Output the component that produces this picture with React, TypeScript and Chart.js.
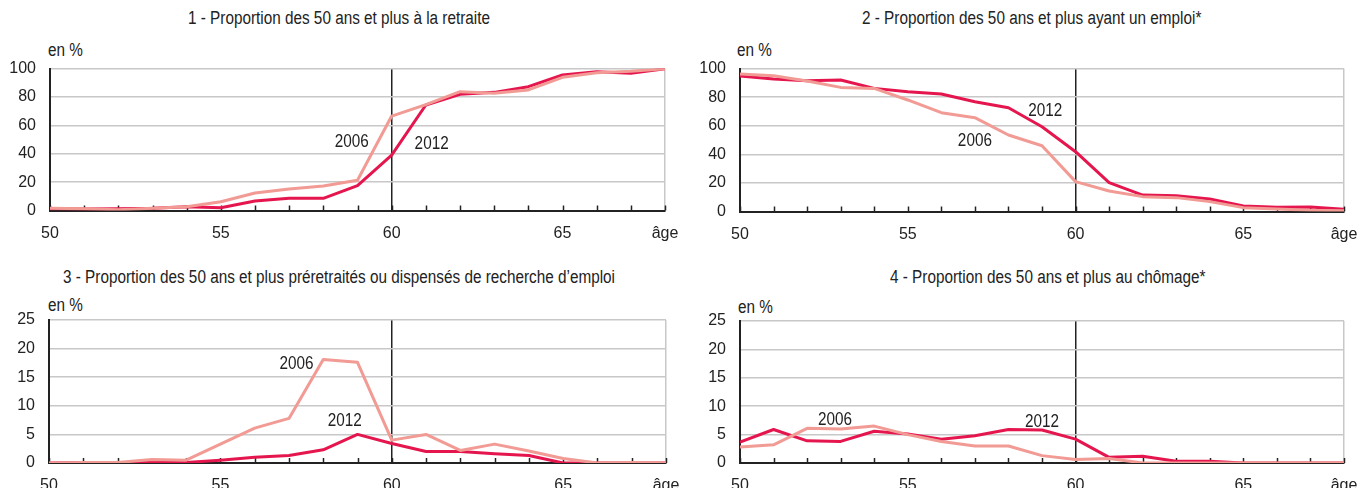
import React, { useEffect, useRef } from 'react';
import { Chart, registerables } from 'chart.js';

Chart.register(...registerables);

// ---------- DATA ----------
const ages = [50, 51, 52, 53, 54, 55, 56, 57, 58, 59, 60, 61, 62, 63, 64, 65, 66, 67, 68];

const retraite2006 = [1.5, 1.2, 0.5, 1.6, 2.7, 6.2, 12.3, 15.1, 17.3, 21.3, 66.5, 74.6, 83.7, 82.5, 84.9, 93.8, 97.0, 98.0, 99.8];
const retraite2012 = [1.3, 1.0, 1.2, 1.5, 2.7, 2.0, 6.7, 8.6, 8.6, 17.5, 39.0, 74.3, 81.8, 83.2, 87.2, 95.4, 97.7, 96.6, 99.8];

const emploi2006 = [96.2, 95.0, 91.3, 86.8, 86.1, 78.0, 69.1, 65.6, 53.5, 46.0, 20.9, 14.3, 10.4, 9.7, 6.9, 2.7, 1.7, 0.8, 0.6];
const emploi2012 = [94.8, 92.7, 91.5, 92.0, 86.1, 83.8, 82.2, 76.8, 72.6, 59.3, 41.8, 20.2, 11.5, 11.1, 8.7, 3.8, 2.9, 3.1, 1.5];

const preretraite2006 = [0, 0.1, 0.1, 0.6, 0.5, 3.3, 6.1, 7.8, 18.1, 17.6, 4.0, 5.0, 2.2, 3.3, 2.1, 0.8, 0, 0.1, 0];
const preretraite2012 = [0, 0.1, 0, 0.1, 0.1, 0.5, 1.0, 1.3, 2.3, 5.0, 3.4, 2.0, 2.0, 1.6, 1.3, 0, 0, 0, 0];

const chomage2006 = [2.8, 3.2, 6.1, 6.0, 6.5, 5.0, 3.8, 3.0, 3.0, 1.3, 0.6, 0.8, 0, 0, 0, 0, 0, 0, 0];
const chomage2012 = [3.7, 5.9, 3.9, 3.8, 5.6, 5.1, 4.2, 4.8, 5.9, 5.8, 4.2, 1.0, 1.2, 0.3, 0.3, 0, 0, 0, 0];

const xTickLabels: Record<number, string> = { 50: '50', 55: '55', 60: '60', 65: '65', 68: 'âge' };

const titles = [
  '1 - Proportion des 50 ans et plus à la retraite',
  '2 - Proportion des 50 ans et plus ayant un emploi*',
  '3 - Proportion des 50 ans et plus préretraités ou dispensés de recherche d’emploi',
  '4 - Proportion des 50 ans et plus au chômage*',
];
const unitLabel = 'en %';

type Note = { text: string; age: number; value: number };
const notes1: Note[] = [
  { text: '2006', age: 58.83, value: 48 },
  { text: '2012', age: 61.17, value: 47 },
];
const notes2: Note[] = [
  { text: '2012', age: 59.1, value: 70.6 },
  { text: '2006', age: 57.0, value: 49 },
];
const notes3: Note[] = [
  { text: '2006', age: 57.22, value: 17.3 },
  { text: '2012', age: 58.63, value: 7.3 },
];
const notes4: Note[] = [
  { text: '2006', age: 52.83, value: 7.5 },
  { text: '2012', age: 59.0, value: 7.3 },
];

// ---------- STYLE ----------
const FONT = "'Liberation Sans', Arial, sans-serif";
const TEXT_SIZE = 18;
const NARROW = 0.85;
const TICK_SIZE = 16;
const TEXT = '#222';
const C2012 = '#E5164E';
const C2006 = '#F29A94';
const GRID = '#c8c8c8';

type Box = { left: number; top: number; width: number; height: number };
type Area = { left: number; right: number; top: number; bottom: number };
type Panel = {
  title: string;
  s2006: number[];
  s2012: number[];
  yMax: number;
  yStep: number;
  notes: Note[];
  canvas: Box;
  area: Area;
  titlePos: { left: number; top: number };
  unitPos: { left: number; top: number };
};

const panels: Panel[] = [
  {
    title: titles[0], s2006: retraite2006, s2012: retraite2012, yMax: 100, yStep: 20, notes: notes1,
    canvas: { left: 0, top: 60, width: 680, height: 185 },
    area: { left: 50, right: 665, top: 68.5, bottom: 210.5 },
    titlePos: { left: 188, top: 8 }, unitPos: { left: 48, top: 40 },
  },
  {
    title: titles[1], s2006: emploi2006, s2012: emploi2012, yMax: 100, yStep: 20, notes: notes2,
    canvas: { left: 680, top: 60, width: 677, height: 185 },
    area: { left: 740, right: 1344, top: 68.5, bottom: 211.5 },
    titlePos: { left: 862, top: 8 }, unitPos: { left: 737, top: 40 },
  },
  {
    title: titles[2], s2006: preretraite2006, s2012: preretraite2012, yMax: 25, yStep: 5, notes: notes3,
    canvas: { left: 0, top: 310, width: 680, height: 178 },
    area: { left: 49, right: 666, top: 320, bottom: 463 },
    titlePos: { left: 63, top: 267 }, unitPos: { left: 48, top: 295 },
  },
  {
    title: titles[3], s2006: chomage2006, s2012: chomage2012, yMax: 25, yStep: 5, notes: notes4,
    canvas: { left: 680, top: 310, width: 677, height: 178 },
    area: { left: 740, right: 1344, top: 321, bottom: 463 },
    titlePos: { left: 890, top: 267 }, unitPos: { left: 738, top: 297 },
  },
];

const decorPlugin = {
  id: 'decor',
  beforeDatasetsDraw(chart: any) {
    const { ctx, chartArea, scales } = chart;
    const x = scales.x;
    ctx.save();
    ctx.strokeStyle = TEXT;
    ctx.lineWidth = 1.5;
    x.ticks.forEach((t: any) => {
      const px = Math.round(x.getPixelForValue(t.value)) + 0.5;
      ctx.beginPath();
      ctx.moveTo(px, chartArea.bottom);
      ctx.lineTo(px, chartArea.bottom - 5);
      ctx.stroke();
    });
    ctx.restore();
  },
  afterDatasetsDraw(chart: any, _args: any, opts: any) {
    const notes: Note[] = (opts && opts.notes) || [];
    const { ctx, scales } = chart;
    notes.forEach((n) => {
      ctx.save();
      ctx.fillStyle = TEXT;
      ctx.font = `${TEXT_SIZE}px ${FONT}`;
      ctx.textAlign = 'center';
      ctx.textBaseline = 'middle';
      ctx.translate(scales.x.getPixelForValue(n.age), scales.y.getPixelForValue(n.value));
      ctx.scale(NARROW, 1);
      ctx.fillText(n.text, 0, 0);
      ctx.restore();
    });
  },
};

function PanelChart({ p }: { p: Panel }) {
  const ref = useRef<HTMLCanvasElement | null>(null);
  useEffect(() => {
    if (!ref.current) return;
    const yWidth = p.area.left - p.canvas.left;
    const xHeight = p.canvas.top + p.canvas.height - p.area.bottom;
    const padTop = p.area.top - p.canvas.top;
    const padRight = p.canvas.left + p.canvas.width - p.area.right;
    const chart = new Chart(ref.current, {
      type: 'line',
      data: {
        datasets: [
          {
            label: '2006',
            data: ages.map((a, i) => ({ x: a, y: p.s2006[i] })),
            borderColor: C2006,
            borderWidth: 3,
            pointRadius: 0,
            tension: 0,
            borderJoinStyle: 'round',
          },
          {
            label: '2012',
            data: ages.map((a, i) => ({ x: a, y: p.s2012[i] })),
            borderColor: C2012,
            borderWidth: 3,
            pointRadius: 0,
            tension: 0,
            borderJoinStyle: 'round',
          },
        ],
      },
      options: {
        responsive: false,
        maintainAspectRatio: false,
        animation: false,
        layout: { padding: { top: padTop, right: padRight, left: 0, bottom: 0 } },
        plugins: {
          legend: { display: false },
          tooltip: { enabled: false },
          decor: { notes: p.notes },
        } as any,
        scales: {
          x: {
            type: 'linear',
            min: ages[0],
            max: ages[ages.length - 1],
            afterFit: (s: any) => {
              s.height = xHeight;
              s.paddingLeft = 0;
              s.paddingRight = 0;
            },
            ticks: {
              stepSize: 1,
              autoSkip: false,
              maxRotation: 0,
              padding: 13,
              color: TEXT,
              font: { family: FONT, size: TICK_SIZE },
              callback: (v: any) => xTickLabels[Number(v)] ?? '',
            },
            grid: {
              drawTicks: false,
              color: (c: any) => {
                const v = c.tick ? c.tick.value : null;
                if (v === 60) return TEXT;
                if (v === ages[ages.length - 1]) return GRID;
                return 'rgba(0,0,0,0)';
              },
              lineWidth: 1.5,
            },
            border: { color: TEXT, width: 2 },
          },
          y: {
            min: 0,
            max: p.yMax,
            afterFit: (s: any) => {
              s.width = yWidth;
              s.paddingTop = 0;
              s.paddingBottom = 0;
            },
            ticks: {
              stepSize: p.yStep,
              padding: 14,
              color: TEXT,
              font: { family: FONT, size: TICK_SIZE },
            },
            grid: {
              drawTicks: false,
              color: (c: any) => (c.tick && c.tick.value === 0 ? 'rgba(0,0,0,0)' : GRID),
              lineWidth: 1.5,
            },
            border: { color: TEXT, width: 2 },
          },
        },
      },
      plugins: [decorPlugin as any],
    });
    return () => chart.destroy();
  }, [p]);
  return (
    <canvas
      ref={ref}
      width={p.canvas.width}
      height={p.canvas.height}
      style={{
        position: 'absolute',
        left: p.canvas.left,
        top: p.canvas.top,
        width: p.canvas.width,
        height: p.canvas.height,
        display: 'block',
      }}
    />
  );
}

const textStyle: React.CSSProperties = {
  position: 'absolute',
  fontFamily: FONT,
  fontSize: TEXT_SIZE,
  lineHeight: '20px',
  color: TEXT,
  whiteSpace: 'nowrap',
  transform: `scaleX(${NARROW})`,
  transformOrigin: 'left center',
};

export default function App() {
  return (
    <div
      style={{
        position: 'absolute',
        left: 0,
        top: 0,
        width: 1357,
        height: 488,
        overflow: 'hidden',
        background: '#fff',
      }}
    >
      {panels.map((p, i) => (
        <React.Fragment key={i}>
          <div style={{ ...textStyle, left: p.titlePos.left, top: p.titlePos.top }}>{p.title}</div>
          <div style={{ ...textStyle, left: p.unitPos.left, top: p.unitPos.top }}>{unitLabel}</div>
          <PanelChart p={p} />
        </React.Fragment>
      ))}
    </div>
  );
}
